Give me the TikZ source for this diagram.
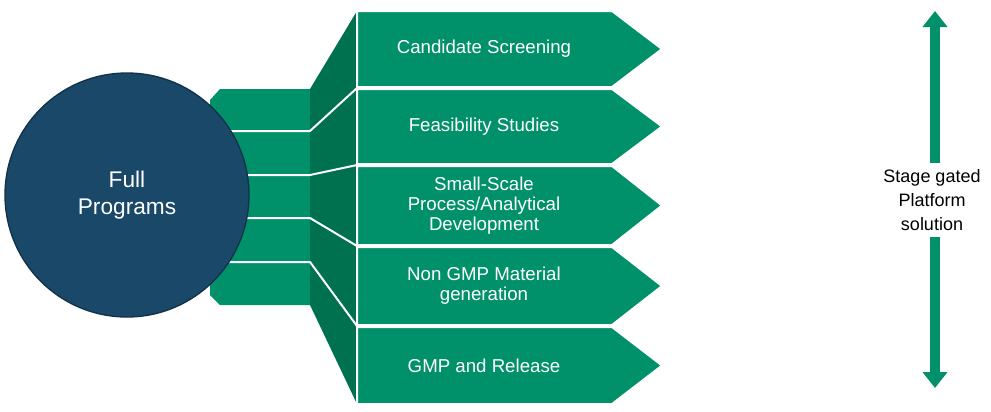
\documentclass[tikz,border=0pt]{standalone}
\usepackage{fontspec}
\setmainfont{Liberation Sans}
\usetikzlibrary{arrows.meta,positioning}
\definecolor{stagegreen}{HTML}{00916A}
\definecolor{stagedark}{HTML}{00714F}
\definecolor{progblue}{HTML}{1A4868}
\tikzset{
	stage/.style={fill=stagegreen,draw=white,line width=1.5pt},
	stagetext/.style={text=white,align=center,font=\fontsize{14}{15}\selectfont},
	sep/.style={draw=white,line width=1.5pt},
	gate/.style={stagegreen,line width=7.5pt,-{Triangle[width=18pt,length=12pt]}}
}
\begin{document}
\begin{tikzpicture}[x=0.75pt,y=-0.75pt]
	\useasboundingbox (0,0) rectangle (991,411);
	% side bars and fan
	\fill[stagegreen] (210,100) -- (220,89) -- (310,89) -- (310,305) -- (220,305) -- (210,295) -- cycle;
	\fill[stagedark] (310,89) -- (357,11) -- (357,404) -- (310,305) -- cycle;
	\foreach \ya/\yb in {131/88,175/165,218/246,262/326}
		\draw[sep] (225,\ya) -- (310,\ya) -- (357,\yb);
	% chevrons
	\foreach \top/\bot/\name in {11/87/s1,89/164/s2,166/245/s3,247/325/s4,327/404/s5} {
		\pgfmathsetmacro{\mid}{(\top+\bot)/2}
		\draw[stage] (357,\top) -- (612,\top) -- (662,\mid) -- (612,\bot) -- (357,\bot) -- cycle;
		\coordinate (\name) at (484,\mid);
	}
	\node[stagetext] at (s1) {Candidate Screening};
	\node[stagetext] at (s2) {Feasibility Studies};
	\node[stagetext] at (s3) {Small-Scale\\Process/Analytical\\Development};
	\node[stagetext] at (s4) {Non GMP Material\\generation};
	\node[stagetext] at (s5) {GMP and Release};
	% programs
	\node[circle,fill=progblue,minimum size=183pt,text=white,align=center,
		font=\fontsize{17}{20}\selectfont,
		draw=progblue!70!black,line width=1pt] (full) at (127,195) {Full\\Programs};
	% gate arrow
	\node[align=center,font=\fontsize{13.5}{18}\selectfont] (gate) at (932,200)
		{Stage gated\\Platform\\solution};
	\coordinate (gtop) at (935,11);
	\coordinate (gbot) at (935,388);
	\draw[gate] (gate.north -| gtop) ++(0,-2) -- (gtop);
	\draw[gate] (gate.south -| gbot) ++(0,2) -- (gbot);
\end{tikzpicture}
\end{document}
